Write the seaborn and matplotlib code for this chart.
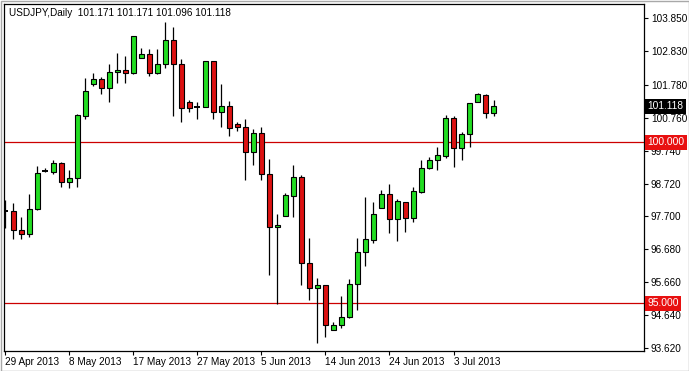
import matplotlib
matplotlib.use("Agg")
import matplotlib.pyplot as plt
import numpy as np
import seaborn as sns
from matplotlib.patches import Rectangle

# ---- data ----
opens = [97.88, 97.88, 97.27, 97.14, 97.93, 99.12, 99.09, 99.35, 98.78, 98.88,
         100.83, 101.80, 101.96, 101.68, 102.17, 102.25, 102.14, 102.61, 102.74, 102.14,
         102.42, 103.17, 102.43, 101.24, 101.11, 101.11, 102.52, 100.93, 101.13, 100.57,
         100.48, 99.71, 100.28, 99.01, 97.36, 97.72, 98.34, 98.91, 96.24, 95.47,
         95.56, 94.16, 94.32, 94.57, 95.59, 96.58, 96.97, 97.95, 98.39, 97.61,
         98.14, 97.64, 98.47, 99.19, 99.44, 99.58, 100.75, 99.81, 100.25, 101.26,
         101.48, 100.92]
highs = [98.21, 98.12, 97.68, 98.39, 99.26, 99.20, 99.45, 99.39, 99.14, 100.87,
         101.99, 102.16, 102.04, 102.43, 102.78, 102.68, 103.30, 102.92, 102.89, 102.89,
         103.75, 103.57, 102.58, 101.30, 101.24, 102.52, 102.52, 101.81, 101.28, 100.62,
         100.72, 100.41, 100.47, 99.47, 97.77, 98.42, 99.29, 98.98, 97.02, 95.78,
         95.56, 94.41, 95.23, 95.76, 97.02, 98.29, 98.14, 98.52, 98.70, 98.23,
         98.16, 98.60, 99.45, 99.53, 99.84, 100.85, 100.82, 100.33, 101.21, 101.54,
         101.50, 101.31]
lows = [97.33, 96.99, 97.01, 97.07, 97.90, 99.08, 99.02, 98.62, 98.57, 98.62,
        100.73, 101.76, 101.50, 101.26, 101.85, 101.83, 102.11, 102.61, 102.07, 102.11,
        102.32, 100.82, 100.64, 100.95, 100.73, 101.11, 100.71, 100.47, 100.20, 100.36,
        98.83, 99.30, 98.83, 95.88, 94.97, 97.72, 97.67, 95.57, 95.10, 93.78,
        93.96, 94.16, 94.22, 94.53, 94.79, 96.17, 96.88, 97.95, 97.19, 96.94,
        97.22, 97.53, 98.43, 99.16, 99.14, 99.50, 99.24, 99.45, 99.86, 101.26,
        100.76, 100.82]
closes = [97.88, 97.27, 97.14, 97.92, 99.04, 99.12, 99.35, 98.78, 98.88, 100.84,
          101.59, 101.96, 101.68, 102.17, 102.25, 102.14, 103.30, 102.74, 102.14, 102.43,
          103.17, 102.42, 101.07, 101.07, 101.11, 102.52, 100.93, 101.13, 100.43, 100.48,
          99.71, 100.28, 99.01, 97.36, 97.42, 98.36, 98.91, 96.24, 95.47, 95.56,
          94.32, 94.33, 94.57, 95.59, 96.58, 96.99, 97.76, 98.39, 97.61, 98.18,
          97.64, 98.48, 99.19, 99.44, 99.60, 100.75, 99.81, 100.25, 101.21, 101.50,
          100.92, 101.118]

date_tick_idx = [0, 8, 16, 24, 32, 40, 48, 56]
date_labels = ["29 Apr 2013", "8 May 2013", "17 May 2013", "27 May 2013",
               "5 Jun 2013", "14 Jun 2013", "24 Jun 2013", "3 Jul 2013"]
price_ticks = [103.850, 102.830, 101.780, 100.760, 99.740, 98.720,
               97.700, 96.680, 95.660, 94.640, 93.620]
levels = [100.000, 95.000]
last_price = 101.118
header = "USDJPY,Daily  101.171 101.171 101.096 101.118"

# ---- style ----
sns.set_style("white")
plt.rcParams["font.family"] = ["Liberation Sans", "DejaVu Sans"]

UP = "#22dd22"
DOWN = "#dd1111"
LEVEL = "#cc0000"

W, H = 689, 371
fig = plt.figure(figsize=(W / 100, H / 100), dpi=100)
fig.patch.set_facecolor("white")
ax = fig.add_axes([4 / W, 20 / H, 640 / W, 347 / H])
ax.set_facecolor("white")

o = np.array(opens); h = np.array(highs); l = np.array(lows); c = np.array(closes)
x = np.arange(len(o))

# level lines
for lv in levels:
    ax.axhline(lv, color=LEVEL, lw=0.9, zorder=1)

# wicks
ax.vlines(x, l, h, color="black", lw=0.9, zorder=2)

doji = np.abs(c - o) < 0.01
body = ~doji
cols = np.where(c >= o, UP, DOWN)
ax.bar(x[body], np.abs(c - o)[body], bottom=np.minimum(o, c)[body], width=0.62,
       color=cols[body], edgecolor="black", linewidth=0.8, zorder=3)
ax.hlines(c[doji], x[doji] - 0.36, x[doji] + 0.36, color="black", lw=1.4, zorder=3)

ax.set_xlim(-0.16, 79.8)
ax.set_ylim(93.52, 104.295)

for s in ax.spines.values():
    s.set_color("black")
    s.set_linewidth(0.9)
    s.set_visible(True)

ax.yaxis.tick_right()
ax.set_yticks(price_ticks)
ax.set_yticklabels([f"{v:.3f}" for v in price_ticks])
ax.tick_params(axis="y", which="both", direction="out", length=3, width=0.8,
               pad=2, labelsize=7.2, colors="black", right=True, left=False)

ax.set_xticks(date_tick_idx)
ax.set_xticklabels(date_labels)
ax.tick_params(axis="x", which="both", direction="out", length=3, width=0.8,
               pad=1.5, labelsize=7.2, colors="black", bottom=True)
for lab in ax.get_xticklabels():
    lab.set_ha("left")
ax.grid(False)

# header
ax.text(5 / 640, 1 - 9 / 347, header, transform=ax.transAxes, fontsize=7.2,
        va="center", ha="left", color="black")

# price tags
yt = ax.get_yaxis_transform()
ax.text(1.005, last_price, f"{last_price:.3f}", transform=yt, fontsize=7.4, color="white",
        va="center", ha="left", clip_on=False, zorder=10,
        bbox=dict(boxstyle="square,pad=0.24", fc="black", ec="none"))
for lv in levels:
    ax.text(1.005, lv, f"{lv:.3f}", transform=yt, fontsize=7.4, color="white",
            va="center", ha="left", clip_on=False, zorder=10,
            bbox=dict(boxstyle="square,pad=0.24", fc="#e81010", ec="none"))

# window frame
fig.add_artist(Rectangle((0.5 / W, 0.5 / H), 1 - 1 / W, 1 - 1 / H, transform=fig.transFigure,
                         fill=False, ec="#a8a8a8", lw=1))

fig.savefig("out.png", dpi=100)
